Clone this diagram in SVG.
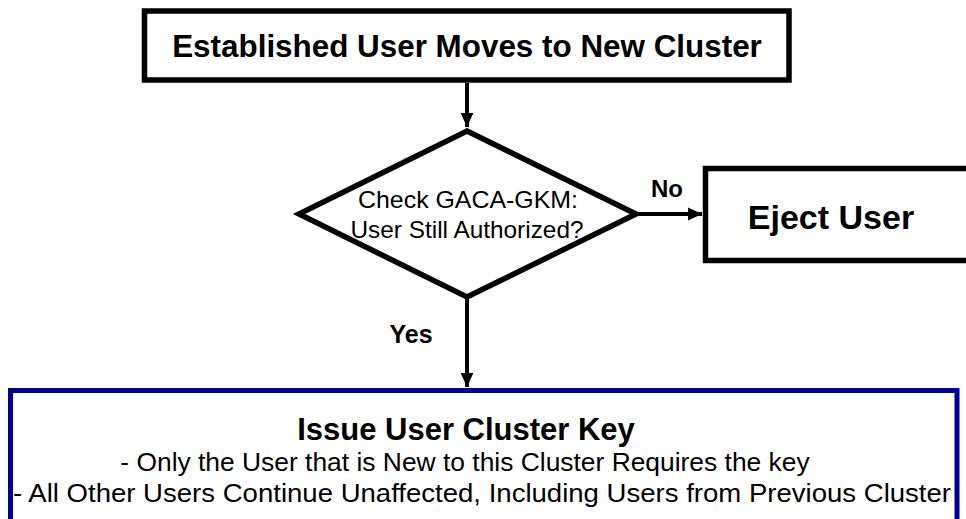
<svg xmlns="http://www.w3.org/2000/svg" width="966" height="519" viewBox="0 0 966 519">
<defs>
<style>
.box{fill:#fff;stroke:#000;stroke-width:5.5}
.blue{fill:#fff;stroke:#000099;stroke-width:5}
.t{font-family:"Liberation Sans",Arial,sans-serif;fill:#000;text-anchor:middle}
.b{font-weight:bold}
.edge{stroke:#000;stroke-width:4;fill:none}
</style>
<marker id="ah" markerWidth="4" markerHeight="4" refX="3.5" refY="2" orient="auto" markerUnits="strokeWidth"><path d="M0,0.4 L3.5,2 L0,3.6 Z" fill="#000"/></marker>
</defs>
<rect width="966" height="519" fill="#fff"/>
<g id="connectors">
<line class="edge" x1="467" y1="83" x2="467" y2="127" marker-end="url(#ah)"/>
<line class="edge" x1="636" y1="214" x2="702" y2="214" marker-end="url(#ah)"/>
<line class="edge" x1="467" y1="298" x2="467" y2="387" marker-end="url(#ah)"/>
<text class="t b" x="667" y="197" font-size="24">No</text>
<text class="t b" x="411" y="343" font-size="25">Yes</text>
</g>
<g id="start">
<rect class="box" x="144.5" y="11" width="644.5" height="69"/>
<text class="t b" x="467" y="57" font-size="31.4">Established User Moves to New Cluster</text>
</g>
<g id="decision">
<polygon class="box" points="467,131 636,214 467,297 299,214"/>
<text class="t" x="468" y="208" font-size="24" textLength="220" lengthAdjust="spacingAndGlyphs">Check GACA-GKM:</text>
<text class="t" x="467" y="238" font-size="24" textLength="233" lengthAdjust="spacingAndGlyphs">User Still Authorized?</text>
</g>
<g id="eject">
<rect class="box" x="705.5" y="168.5" width="280" height="92"/>
<text class="t b" x="831" y="229" font-size="34">Eject User</text>
</g>
<g id="issue">
<rect class="blue" x="10.5" y="390.5" width="946.5" height="150"/>
<text class="t b" x="466" y="440" font-size="31">Issue User Cluster Key</text>
<text class="t" x="465" y="471" font-size="26.4">- Only the User that is New to this Cluster Requires the key</text>
<text class="t" x="482" y="502" font-size="26.4" textLength="938" lengthAdjust="spacingAndGlyphs">- All Other Users Continue Unaffected, Including Users from Previous Cluster</text>
</g>
</svg>
